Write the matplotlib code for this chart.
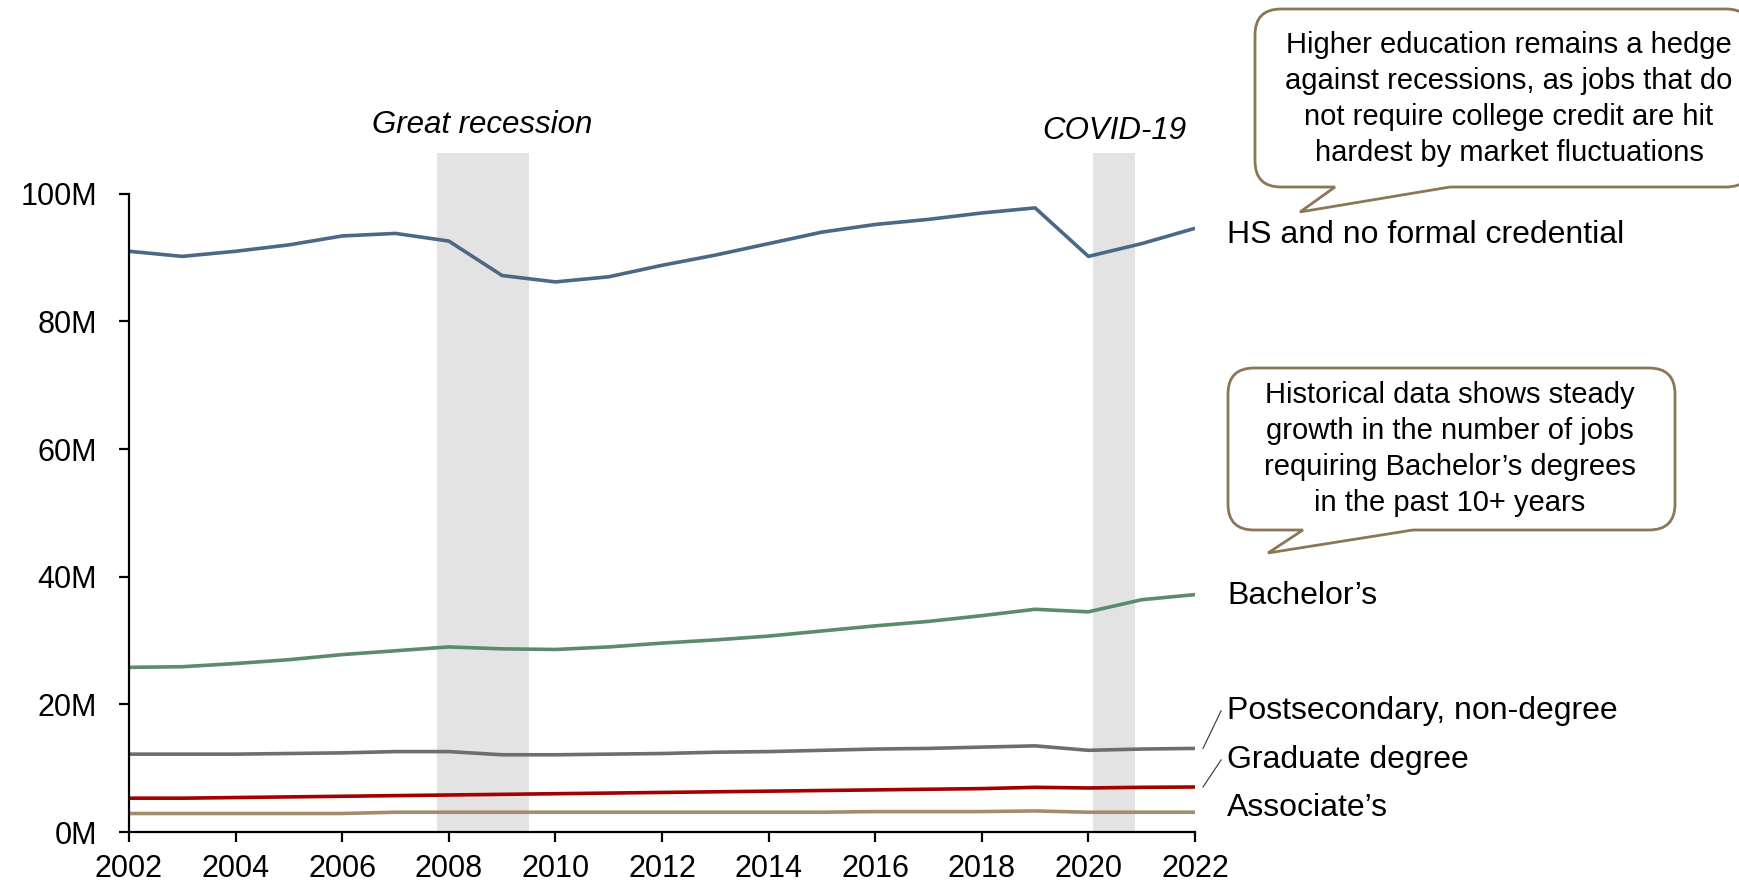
import numpy as np
import matplotlib.pyplot as plt
from matplotlib.path import Path
from matplotlib.patches import PathPatch

plt.rcParams['font.family'] = ['Liberation Sans', 'DejaVu Sans']

years = list(range(2002, 2023))

# millions of jobs by education requirement
hs_none = [91.0, 90.2, 91.0, 92.0, 93.4, 93.8, 92.6, 87.2, 86.2, 87.0, 88.8,
           90.4, 92.2, 94.0, 95.2, 96.0, 97.0, 97.8, 90.2, 92.2, 94.6]
bachelors = [25.8, 25.9, 26.4, 27.0, 27.8, 28.4, 29.0, 28.7, 28.6, 29.0, 29.6,
             30.1, 30.7, 31.5, 32.3, 33.0, 33.9, 34.9, 34.5, 36.4, 37.2]
postsec = [12.2, 12.2, 12.2, 12.3, 12.4, 12.6, 12.6, 12.1, 12.1, 12.2, 12.3,
           12.5, 12.6, 12.8, 13.0, 13.1, 13.3, 13.5, 12.8, 13.0, 13.1]
graduate = [5.3, 5.3, 5.4, 5.5, 5.6, 5.7, 5.8, 5.9, 6.0, 6.1, 6.2,
            6.3, 6.4, 6.5, 6.6, 6.7, 6.8, 7.0, 6.9, 7.0, 7.05]
associates = [2.9, 2.9, 2.9, 2.9, 2.9, 3.1, 3.1, 3.1, 3.1, 3.1, 3.1,
              3.1, 3.1, 3.1, 3.2, 3.2, 3.2, 3.3, 3.1, 3.1, 3.1]

series = [
    (hs_none, '#4b6986', 'HS and no formal credential', 93.6),
    (bachelors, '#5b8a6c', 'Bachelor\u2019s', 37.0),
    (postsec, '#6e6e6e', 'Postsecondary, non-degree', 19.0),
    (graduate, '#a30000', 'Graduate degree', 11.3),
    (associates, '#a38c6c', 'Associate\u2019s', 3.8),
]

recessions = [(2007.77, 2009.5, 'Great recession', 110.8),
              (2020.08, 2020.88, 'COVID-19', 109.9)]

W, H = 1740, 889
fig = plt.figure(figsize=(W / 100, H / 100), dpi=100)
ax = fig.add_axes([129 / W, 57 / H, 1066 / W, 679 / H])

for start, end, name, ty in recessions:
    ax.axvspan(start, end, color='#e3e3e3', lw=0, zorder=0)
    ax.text((start + end) / 2, ty, name, ha='center', va='center',
            style='italic', fontsize=22.5, clip_on=False)

for vals, col, lab, ly in series:
    ax.plot(years, vals, color=col, lw=2.6, solid_capstyle='butt')
    ax.text(2022.6, ly, lab, fontsize=23, va='center', ha='left', clip_on=False)

# leader lines for the two tight labels
ax.plot([2022.15, 2022.49], [postsec[-1], 19.0], color='#333333', lw=0.8, clip_on=False)
ax.plot([2022.15, 2022.49], [graduate[-1], 11.3], color='#333333', lw=0.8, clip_on=False)

ax.set_xlim(2002, 2022)
ax.set_ylim(0, 106.4)
ax.set_xticks(range(2002, 2023, 2))
ax.set_yticks(range(0, 101, 20))
ax.set_yticklabels([f'{v}M' for v in range(0, 101, 20)])
ax.spines['left'].set_bounds(0, 100)
for s in ['top', 'right']:
    ax.spines[s].set_visible(False)
for s in ['left', 'bottom']:
    ax.spines[s].set_linewidth(1.6)
ax.tick_params(labelsize=22, length=7, width=1.6, direction='out')
ax.tick_params(axis='x', pad=9)
ax.tick_params(axis='y', pad=16)


def bubble(x0, y0, x1, y1, tb0, tb1, tip, r=26):
    # rounded box with a tail on the bottom edge, pixel coords from top-left
    pts = [(x0 + r, y0), (x1 - r, y0), (x1, y0), (x1, y0 + r), (x1, y1 - r),
           (x1, y1), (x1 - r, y1), (tb1, y1), tip, (tb0, y1), (x0 + r, y1),
           (x0, y1), (x0, y1 - r), (x0, y0 + r), (x0, y0), (x0 + r, y0), (x0 + r, y0)]
    codes = [Path.MOVETO, Path.LINETO, Path.CURVE3, Path.CURVE3, Path.LINETO,
             Path.CURVE3, Path.CURVE3, Path.LINETO, Path.LINETO, Path.LINETO,
             Path.LINETO, Path.CURVE3, Path.CURVE3, Path.LINETO, Path.CURVE3,
             Path.CURVE3, Path.CLOSEPOLY]
    verts = [(x / W, 1 - y / H) for x, y in pts]
    fig.add_artist(PathPatch(Path(verts, codes), transform=fig.transFigure,
                             facecolor='white', edgecolor='#8c7658', lw=2))


bubble(1255, 9, 1752, 187, 1335, 1450, (1300, 212))
fig.text(1509 / W, 1 - 99 / H,
         'Higher education remains a hedge\nagainst recessions, as jobs that do\n'
         'not require college credit are hit\nhardest by market fluctuations',
         ha='center', va='center', fontsize=21, linespacing=1.37)

bubble(1228, 368, 1675, 530, 1303, 1413, (1268, 553))
fig.text(1450 / W, 1 - 449 / H,
         'Historical data shows steady\ngrowth in the number of jobs\n'
         'requiring Bachelor\u2019s degrees\nin the past 10+ years',
         ha='center', va='center', fontsize=21, linespacing=1.37)

fig.savefig('out.png', dpi=100)
